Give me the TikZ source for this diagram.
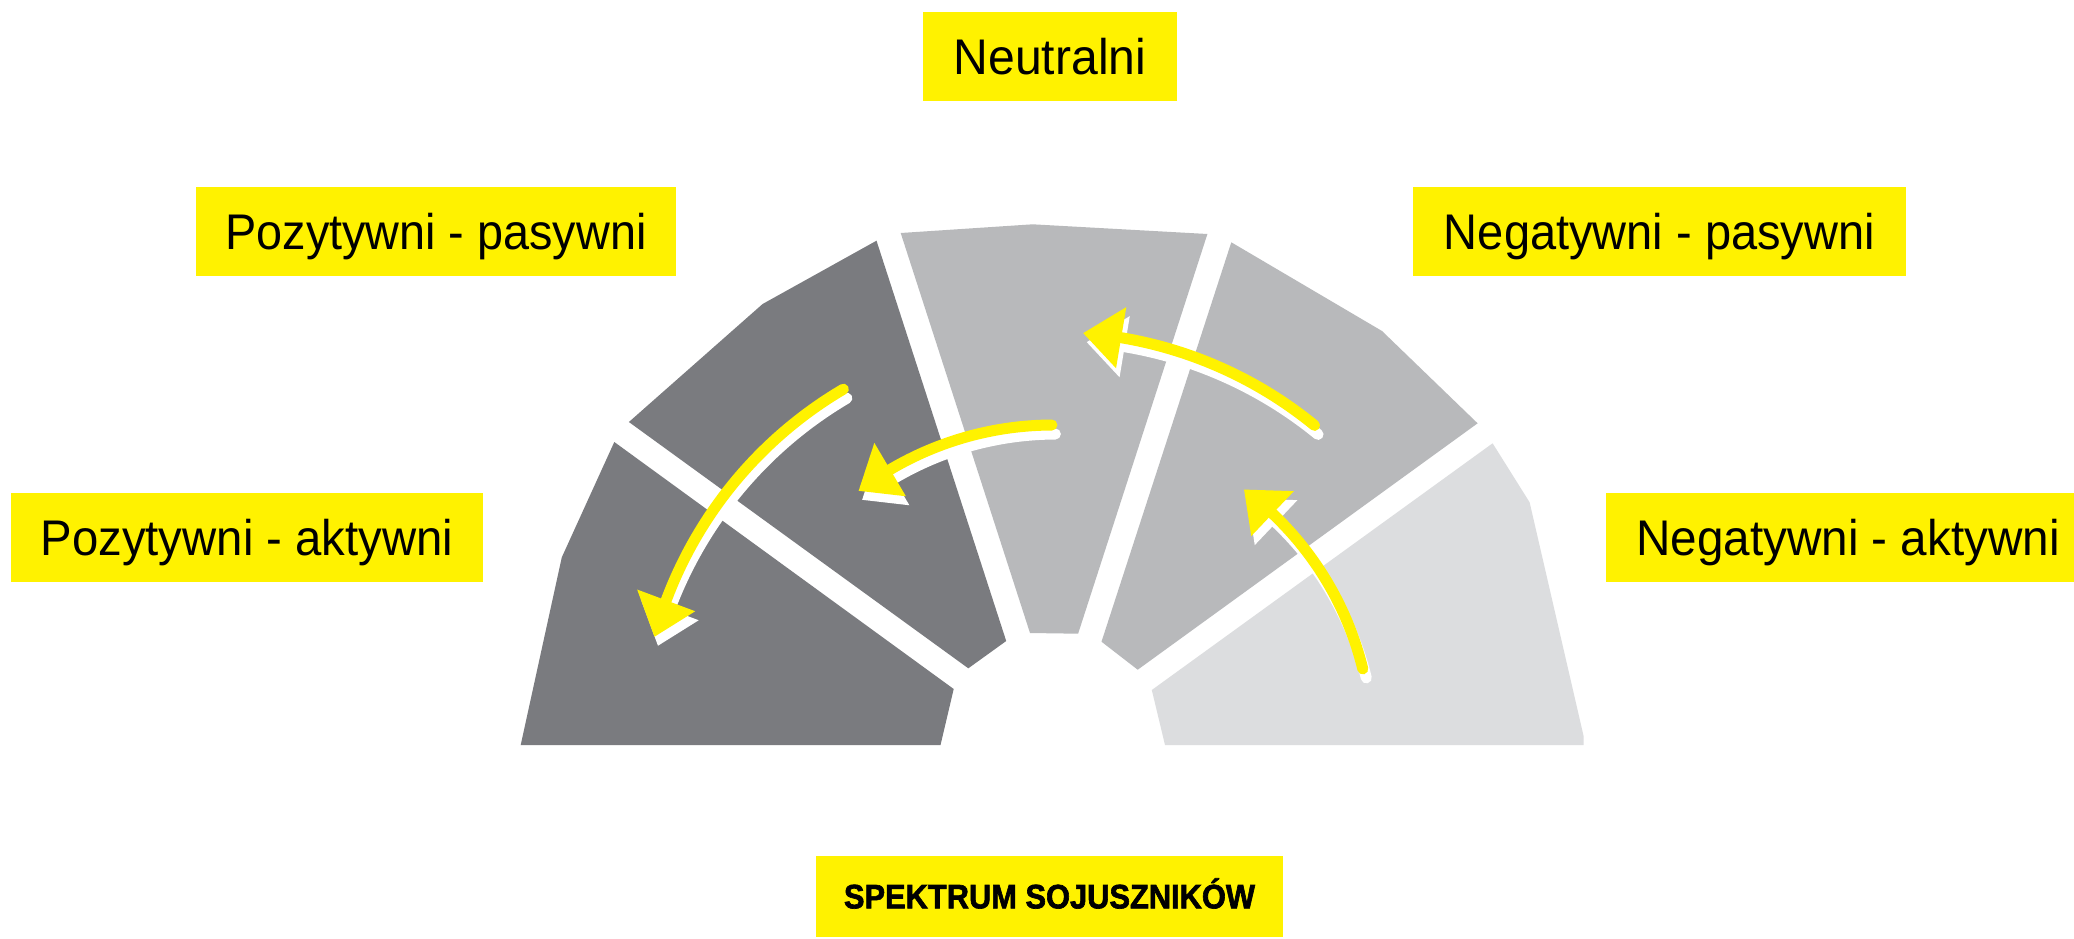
\documentclass[tikz,border=0pt]{standalone}
\usepackage{fontspec}
\setmainfont{Liberation Sans}
\newfontfamily\titlefont[FakeBold=2]{Liberation Sans}
\usepackage{graphicx}
\usetikzlibrary{calc}
\definecolor{segdark}{HTML}{7A7B7F}
\definecolor{segmid}{HTML}{B8B9BB}
\definecolor{seglight}{HTML}{DCDDDF}
\definecolor{markyellow}{HTML}{FFF200}
\newcommand{\fitlabel}[3]{\raisebox{0pt}[#3][0pt]{\resizebox{#2}{#3}{#1}}}
% #1 radius, #2 tail angle, #3 base angle, #4 tip angle
\newcommand{\swingarrow}[4]{%
  \foreach \dx/\dy/\col in {3.5/9/white, 0/0/markyellow} {%
    \coordinate (c) at ($(ctr)+(\dx,\dy)$);
    \draw[line width=11pt, line cap=round, draw=\col]
      ($(c)+(#2:#1)$) arc[start angle=#2, end angle=#3, radius=#1];
    \fill[\col] ($(c)+(#3:#1+31)$) -- ($(c)+(#4:#1)$) -- ($(c)+(#3:#1-31)$) -- cycle;
  }}
\tikzset{
  lbl/.style={fill=markyellow, inner sep=0pt, text=black, anchor=center, minimum height=89pt},
}
\begin{document}
\begin{tikzpicture}[x=1pt,y=-1pt]
\useasboundingbox (0,0) rectangle (2074,938);
\clip (0,0) rectangle (2074,938);
\fill[white] (0,0) rectangle (2074,938);
\coordinate (ctr) at (1053,745);

% segments
\fill[segdark] (614.3,442) -- (561.8,557.3) -- (520.7,745) -- (940.5,745) -- (953.7,689) -- cycle;
\fill[segdark] (628.9,422) -- (762.6,304) -- (876.5,240.7) -- (1006.2,641) -- (968.3,668.3) -- cycle;
\fill[segmid] (900.7,233) -- (1032.7,224.3) -- (1207.4,234) -- (1078.1,633.7) -- (1030,633) -- cycle;
\fill[segmid] (1231.3,242.3) -- (1382,331) -- (1477.6,423.3) -- (1137.7,669.7) -- (1101.5,641.7) -- cycle;
\fill[seglight] (1492.6,443.3) -- (1529.6,502.3) -- (1583.5,735.7) -- (1583.5,745) -- (1165,745) -- (1151.8,690) -- cycle;

% arrows
\swingarrow{413}{-120.5}{-159.5}{-164.8}
\swingarrow{320}{-90.2}{-120.6}{-127.4}
\swingarrow{413}{-50.7}{-80.5}{-85.8}
\swingarrow{319}{-13.8}{-46.5}{-53.2}

% labels
\node[lbl, minimum width=254pt] (neutral) at (1050,56.5) {\fitlabel{Neutralni}{192.5pt}{36.3pt}};
\node[lbl, minimum width=480pt] (pospas) at (436,231.5) {\fitlabel{Pozytywni - pasywni}{421pt}{36.3pt}};
\node[lbl, minimum width=493pt] (negpas) at (1659.5,231.5) {\fitlabel{Negatywni - pasywni}{431pt}{36.3pt}};
\node[lbl, minimum width=472pt] (posakt) at (247,537.5) {\fitlabel{Pozytywni - aktywni}{412.6pt}{36.3pt}};
\node[lbl, minimum width=484pt] (negakt) at (1848,537.5) {\fitlabel{Negatywni - aktywni}{423.6pt}{36.3pt}};
\node[lbl, minimum width=467pt, minimum height=81pt] (title) at (1049.5,896.5) {\fitlabel{\titlefont\bfseries SPEKTRUM SOJUSZNIK\smash{Ó}W}{411pt}{23.7pt}};
\end{tikzpicture}
\end{document}
